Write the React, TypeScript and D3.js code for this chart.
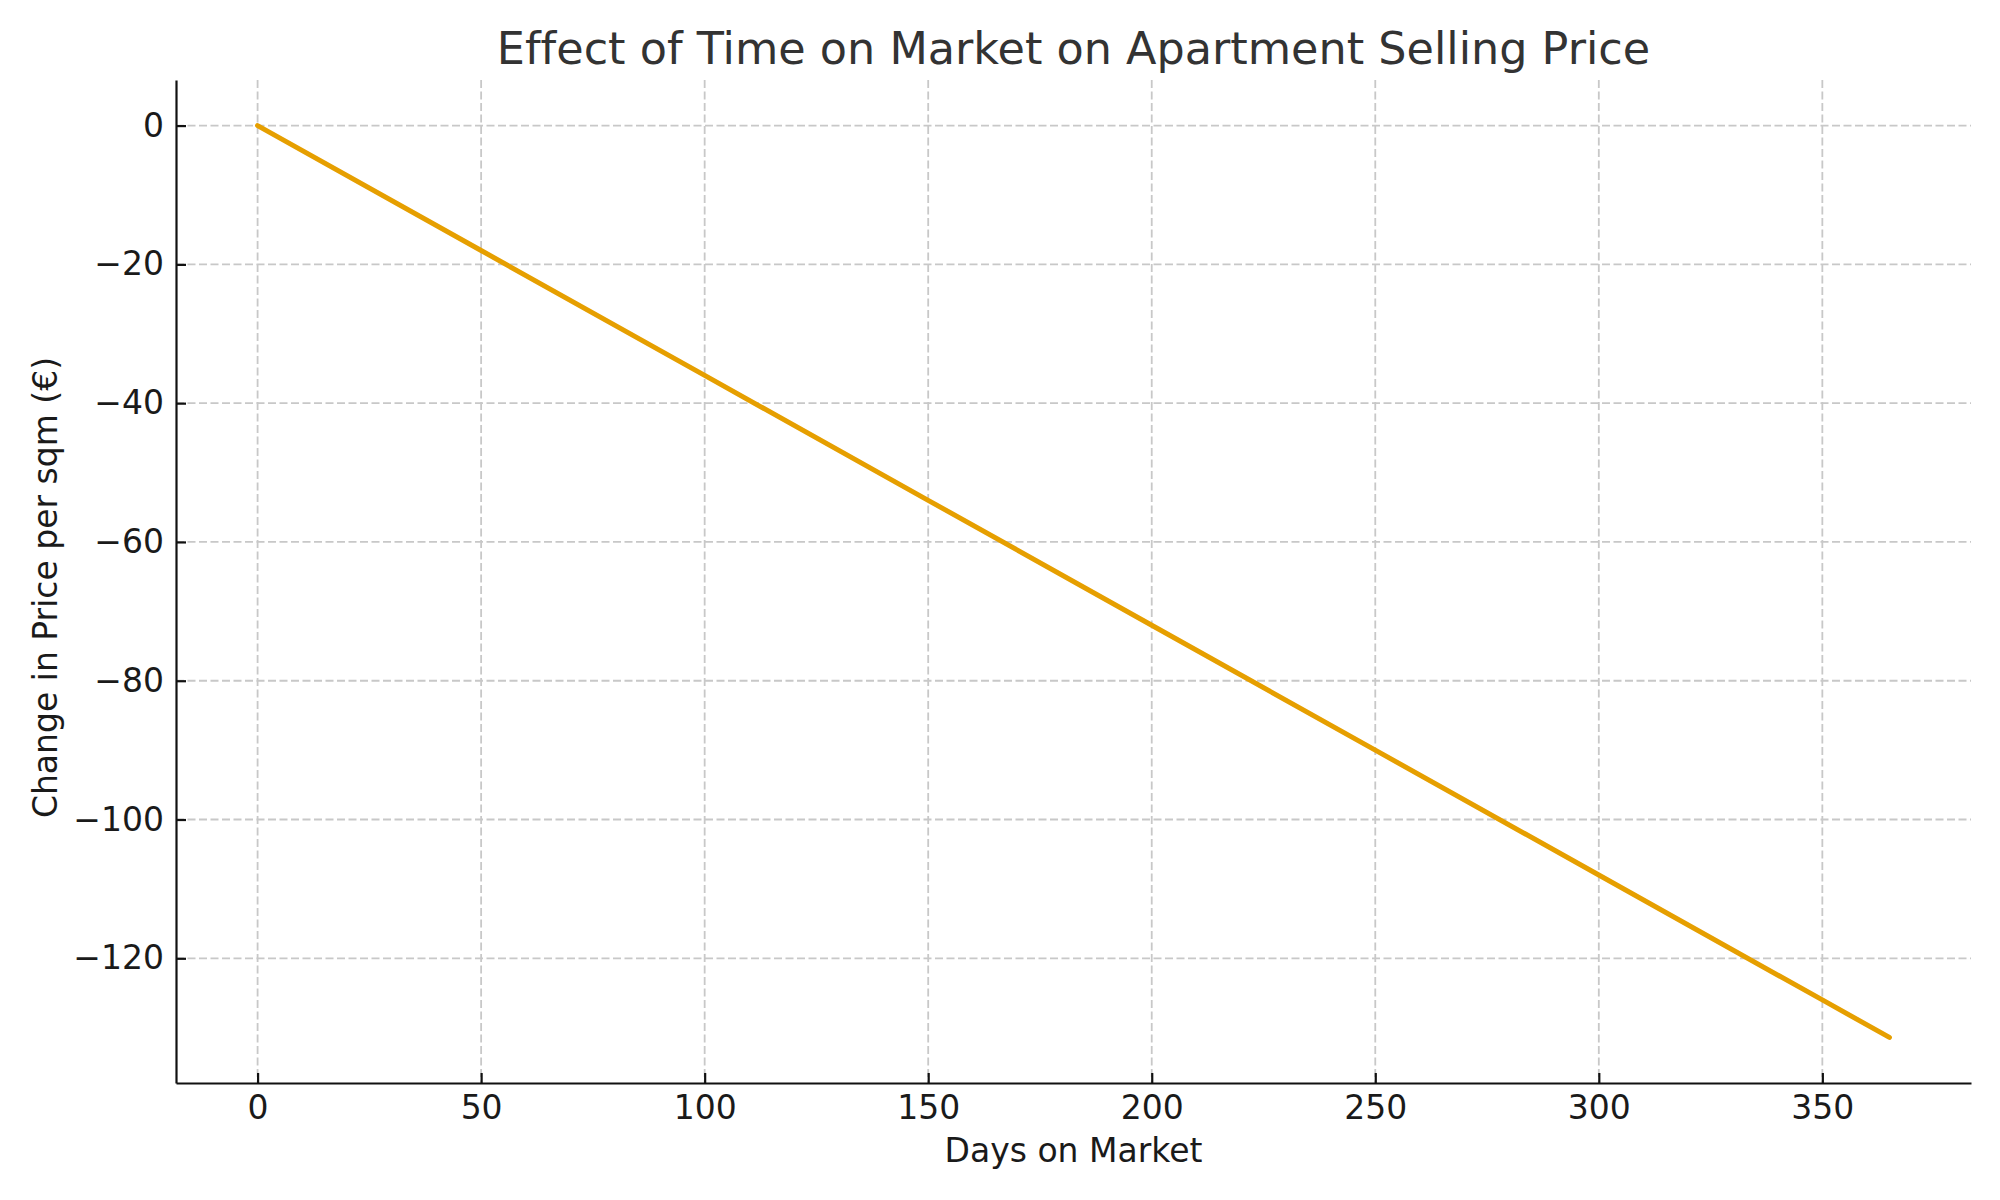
import { useEffect, useRef } from 'react';
import * as d3 from 'd3';

// days on market and the price change
const days = [0, 50, 100, 150, 200, 250, 300, 350, 365];
const priceChange = [0, -18, -36, -54, -72, -90, -108, -126, -131.4];
const xTicks = [0, 50, 100, 150, 200, 250, 300, 350];
const yTicks = [0, -20, -40, -60, -80, -100, -120];

const TITLE = 'Effect of Time on Market on Apartment Selling Price';
const X_LABEL = 'Days on Market';
const Y_LABEL = 'Change in Price per sqm (€)';

export default function App() {
  const svgRef = useRef<SVGSVGElement>(null);
  const width = 2000;
  const height = 1200;

  useEffect(() => {
    document.body.style.margin = '0';
    if (!svgRef.current) return;
    const svg = d3.select(svgRef.current);
    svg.selectAll('*').remove();

    const margin = { top: 80, right: 29, bottom: 117, left: 176 };
    const plotW = width - margin.left - margin.right;
    const plotH = height - margin.top - margin.bottom;
    const font = 'DejaVu Sans, sans-serif';

    // matplotlib style 5% padding
    const xMin = d3.min(days)!, xMax = d3.max(days)!;
    const yMin = d3.min(priceChange)!, yMax = d3.max(priceChange)!;
    const xPad = (xMax - xMin) * 0.05;
    const yPad = (yMax - yMin) * 0.05;

    const x = d3.scaleLinear().domain([xMin - xPad, xMax + xPad]).range([0, plotW]);
    const y = d3.scaleLinear().domain([yMin - yPad, yMax + yPad]).range([plotH, 0]);

    svg.append('rect').attr('width', width).attr('height', height).attr('fill', '#fff');

    const g = svg.append('g').attr('transform', `translate(${margin.left},${margin.top})`);

    // ── 그리드 ──
    g.selectAll('.vgrid')
      .data(xTicks)
      .enter()
      .append('line')
      .attr('x1', (d) => x(d))
      .attr('x2', (d) => x(d))
      .attr('y1', 0)
      .attr('y2', plotH)
      .attr('stroke', '#c8c8c8')
      .attr('stroke-width', 1.8)
      .attr('stroke-dasharray', '8,3.5');

    g.selectAll('.hgrid')
      .data(yTicks)
      .enter()
      .append('line')
      .attr('x1', 0)
      .attr('x2', plotW)
      .attr('y1', (d) => y(d))
      .attr('y2', (d) => y(d))
      .attr('stroke', '#c8c8c8')
      .attr('stroke-width', 1.8)
      .attr('stroke-dasharray', '8,3.5');

    // ── 선 ──
    const line = d3.line<number>()
      .x((_, i) => x(days[i]))
      .y((d) => y(d));

    g.append('path')
      .datum(priceChange)
      .attr('d', line)
      .attr('fill', 'none')
      .attr('stroke', '#E69F00')
      .attr('stroke-width', 5)
      .attr('stroke-linecap', 'round');

    // ── 축 ──
    const xAxis = g.append('g')
      .attr('transform', `translate(0,${plotH})`)
      .call(d3.axisBottom(x).tickValues(xTicks).tickSizeInner(-10).tickSizeOuter(0).tickPadding(13).tickFormat(d3.format('d')));

    const yAxis = g.append('g')
      .call(d3.axisLeft(y).tickValues(yTicks).tickSizeInner(-10).tickSizeOuter(0).tickPadding(12).tickFormat(d3.format('d')));

    [xAxis, yAxis].forEach((a) => {
      a.select('.domain').attr('stroke', '#111').attr('stroke-width', 2.2);
      a.selectAll('.tick line').attr('stroke', '#111').attr('stroke-width', 2.2);
      a.selectAll('.tick text')
        .attr('fill', '#1a1a1a')
        .attr('font-size', '33px')
        .attr('font-family', font);
    });

    // 제목
    svg.append('text')
      .attr('x', margin.left + plotW / 2)
      .attr('y', 64)
      .attr('text-anchor', 'middle')
      .attr('fill', '#333')
      .attr('font-size', '44.5px')
      .attr('font-family', font)
      .style('font-variant-ligatures', 'none')
      .text(TITLE);

    // X축 라벨
    svg.append('text')
      .attr('x', margin.left + plotW / 2)
      .attr('y', 1162)
      .attr('text-anchor', 'middle')
      .attr('fill', '#1a1a1a')
      .attr('font-size', '33px')
      .attr('font-family', font)
      .text(X_LABEL);

    // Y축 라벨
    svg.append('text')
      .attr('transform', 'rotate(-90)')
      .attr('x', -(margin.top + plotH / 2) - 6)
      .attr('y', 57)
      .attr('text-anchor', 'middle')
      .attr('fill', '#1a1a1a')
      .attr('font-size', '33px')
      .attr('font-family', font)
      .text(Y_LABEL);
  }, []);

  return <svg ref={svgRef} width={width} height={height} style={{ display: 'block' }} />;
}
